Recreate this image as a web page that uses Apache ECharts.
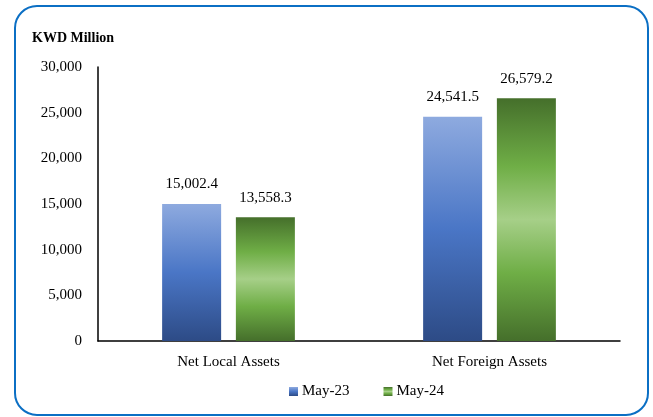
<!DOCTYPE html>
<html><head><meta charset="utf-8">
<script src="https://cdn.jsdelivr.net/npm/echarts@6/dist/echarts.min.js"></script>
<style>html,body{margin:0;padding:0;background:#fff}#c{width:653px;height:417px}</style>
</head><body><div id="c"></div>
<script>
const categories = ['Net Local Assets', 'Net Foreign Assets'];
const seriesNames = ['May-23', 'May-24'];
const may23 = [15002.4, 24541.5];
const may24 = [13558.3, 26579.2];
const yTicks = [0, 5000, 10000, 15000, 20000, 25000, 30000];

const FONT = '"Liberation Serif", "DejaVu Serif", serif';
const blueGrad = {type:'linear', x:0, y:0, x2:0, y2:1, colorStops:[
  {offset:0, color:'#8eaadf'}, {offset:0.5, color:'#4a76c6'}, {offset:1, color:'#2d4b86'}]};
const greenGrad = {type:'linear', x:0, y:0, x2:0, y2:1, colorStops:[
  {offset:0, color:'#456f2b'}, {offset:0.28, color:'#6fae46'}, {offset:0.5, color:'#a6cf88'},
  {offset:0.72, color:'#6fae46'}, {offset:1, color:'#456f2b'}]};
const fmt = v => v.toLocaleString('en-US', {minimumFractionDigits:1, maximumFractionDigits:1});

const chart = echarts.init(document.getElementById('c'));
chart.setOption({
  animation:false,
  backgroundColor:'#fff',
  textStyle:{fontFamily:FONT},
  graphic:[{type:'rect', shape:{x:15, y:6, width:633, height:409, r:22},
    style:{fill:'none', stroke:'#0b6fc4', lineWidth:2}, z:-1}],
  title:{text:'KWD Million', left:27, top:26,
    textStyle:{fontFamily:FONT, fontSize:14, fontWeight:'bold', color:'#000'}},
  legend:{data:seriesNames, bottom:13, left:284, itemWidth:9, itemHeight:9, itemGap:34,
    icon:'rect', textStyle:{fontFamily:FONT, fontSize:15, color:'#000', padding:[0,0,0,-1]}},
  grid:{left:98, right:33, top:67, bottom:76},
  xAxis:{type:'category', data:categories,
    axisLine:{lineStyle:{color:'#000', width:1.5}}, axisTick:{show:false},
    axisLabel:{fontFamily:FONT, fontSize:15, color:'#000', margin:14}},
  yAxis:{type:'value', min:0, max:30000, interval:5000,
    axisLine:{show:true, lineStyle:{color:'#000', width:1.5}}, axisTick:{show:false},
    splitLine:{show:false},
    axisLabel:{fontFamily:FONT, fontSize:15, color:'#000', margin:16,
      formatter:v => v.toLocaleString('en-US')}},
  series:[
    {name:seriesNames[0], type:'bar', data:may23, barWidth:59, barGap:'25%',
     itemStyle:{color:blueGrad},
     label:{show:true, position:'top', distance:12, fontFamily:FONT, fontSize:15, color:'#000',
       formatter:p => fmt(p.value)}},
    {name:seriesNames[1], type:'bar', data:may24, barWidth:59,
     itemStyle:{color:greenGrad},
     label:{show:true, position:'top', distance:12, fontFamily:FONT, fontSize:15, color:'#000',
       formatter:p => fmt(p.value)}}
  ]
});
</script></body></html>
